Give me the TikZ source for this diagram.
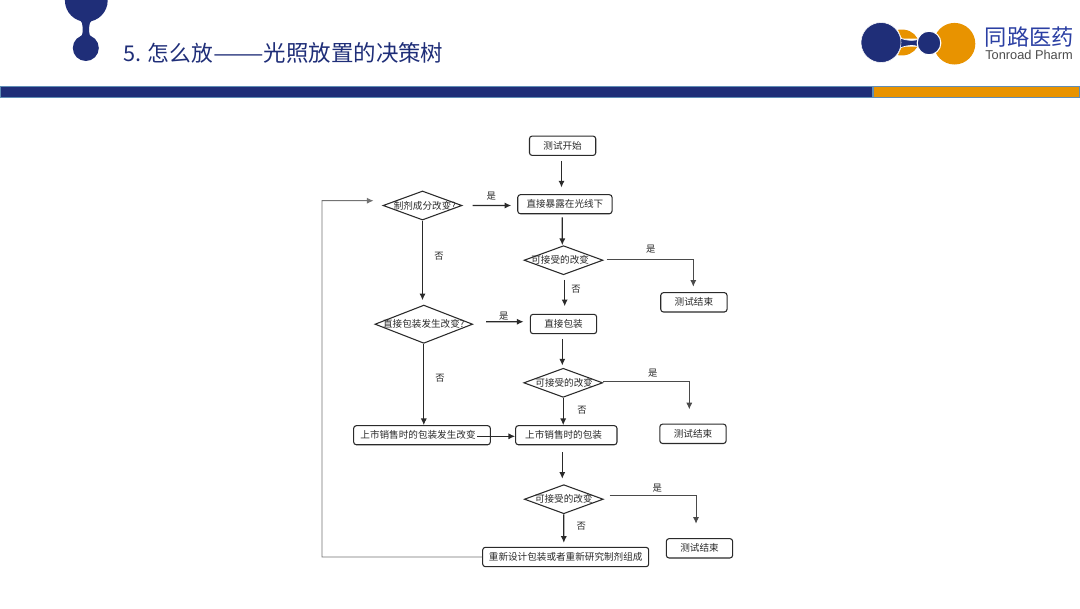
\documentclass[tikz,border=0pt]{standalone}
\usepackage{fontspec}
\usepackage{graphicx}
\setmainfont{Noto Sans CJK SC}
\newfontfamily\latinfont{Liberation Sans}
\usetikzlibrary{shapes.geometric,arrows.meta}
\definecolor{navy}{HTML}{1F2E78}
\definecolor{amber}{HTML}{E89300}
\definecolor{barline}{HTML}{5F8DB5}
\definecolor{logoblue}{HTML}{2B3FA3}
\definecolor{flowink}{HTML}{2A2A2A}
\newcommand\lbl[2][0]{\smash{\makebox[0pt]{\kern#1pt \raisebox{-0.38em}{#2}}}}
\tikzset{
  x=0.75pt,y=-0.75pt,
  flowbox/.style={draw=flowink,line width=0.8pt,rounded corners=2pt,fill=white,inner sep=0pt,text=flowink,font=\fontsize{7.2}{8}\selectfont},
  flowdec/.style={diamond,draw=flowink,line width=0.8pt,fill=white,inner sep=0pt,text=flowink,font=\fontsize{7.2}{8}\selectfont},
  small/.style={minimum width=49.7pt,minimum height=14.5pt},
  dec/.style={minimum width=59.2pt,minimum height=21.8pt},
  arr/.style={draw=flowink,line width=0.85pt,-{Latex[length=5pt,width=4.6pt]}},
  thinarr/.style={draw=flowink!85,line width=0.7pt,-{Latex[length=5pt,width=4.6pt]}},
  backarr/.style={draw=black!55,line width=0.7pt,-{Latex[length=5pt,width=4.6pt]}},
  yn/.style={inner sep=0pt,text=flowink,font=\fontsize{7}{8}\selectfont},
}
\begin{document}
\begin{tikzpicture}
\useasboundingbox (0,0) rectangle (1080,608);
\fill[white] (0,0) rectangle (1080,608);
% top-left ornament
\fill[navy] (86.3,0.4) circle[radius=21.4];
\fill[navy] (85.8,48) circle[radius=13];
\fill[navy] (80,20) .. controls (82,22) and (82.6,24) .. (82.6,27) -- (82.6,32) .. controls (82.6,34) and (82,35.5) .. (80,37.5)
  -- (91.6,37.5) .. controls (89.8,35.5) and (89.2,34) .. (89.2,32) -- (89.2,27) .. controls (89.2,24) and (90,22) .. (92,20) -- cycle;
% title
\node[anchor=west,inner sep=0pt,text=navy,font=\fontsize{16.3}{18}\selectfont] (title) at (123,53) {5. 怎么放\scalebox{1.39}[1]{——}{\fontsize{16.85}{18}\selectfont 光照放置的决策树}};
% bar
\fill[navy,draw=barline,line width=0.7pt] (0.5,86.8) rectangle (872.7,97.8);
\fill[amber,draw=barline,line width=0.7pt] (873.2,86.8) rectangle (1079.5,97.8);
% logo
\fill[amber] (954.5,43.7) circle[radius=20.8];
\fill[amber] (898,29.8) .. controls (907,28.5) and (914,32) .. (917.5,38.5) -- (902,38.5) -- cycle;
\fill[amber] (898,55.2) .. controls (907,56.5) and (914,53) .. (917.5,46.5) -- (902,46.5) -- cycle;
\fill[navy,draw=white,line width=0.5pt] (898,37) .. controls (904,40) and (908,40.3) .. (912,40.3) .. controls (916,40.3) and (919,39.5) .. (922,37)
  -- (922,49) .. controls (919,46.5) and (916,45.5) .. (912,45.5) .. controls (908,45.5) and (904,46) .. (898,49) -- cycle;
\fill[navy,draw=white,line width=0.4pt] (881,42.5) circle[radius=20];
\fill[navy,draw=white,line width=0.8pt] (929,43) circle[radius=11.8];
\node[anchor=west,inner sep=0pt,text=logoblue,font=\fontsize{16.7}{18}\selectfont] (cn) at (984.5,37.5) {同路医药};
\node[anchor=west,inner sep=0pt,text=black!70,font=\latinfont\fontsize{9.6}{11}\selectfont] (en) at (985,55) {Tonroad Pharm};
% flow nodes
\node[flowbox,small] (start) at (562.6,145.75) {\lbl{测试开始}};
\node[flowbox,minimum width=70.7pt,minimum height=14.3pt] (expose) at (564.9,204.2) {\lbl{直接暴露在光线下}};
\node[flowdec,dec] (d1) at (422.5,205.5) {\lbl[3.5]{制剂成分改变?}};
\node[flowdec,dec] (acc1) at (563.5,260.2) {\lbl[-5]{可接受的改变}};
\node[flowbox,small] (end1) at (693.9,302.3) {\lbl{测试结束}};
\node[flowdec,minimum width=73.3pt,minimum height=28.7pt] (d2) at (423.8,324.2) {\lbl{直接包装发生改变?}};
\node[flowbox,small] (pack) at (563.5,324) {\lbl{直接包装}};
\node[flowdec,dec] (acc2) at (563.2,382.8) {\lbl[1.5]{可接受的改变}};
\node[flowbox,small] (end2) at (693,433.8) {\lbl{测试结束}};
\node[flowbox,minimum width=102.5pt,minimum height=14.3pt] (mchange) at (422,435.2) {\lbl[-6]{上市销售时的包装发生改变}};
\node[flowbox,minimum width=76pt,minimum height=14.3pt] (market) at (566.3,435.2) {\lbl[-4]{上市销售时的包装}};
\node[flowdec,dec] (acc3) at (563.8,499.2) {\lbl{可接受的改变}};
\node[flowbox,small] (end3) at (699.5,548.3) {\lbl{测试结束}};
\node[flowbox,minimum width=124.5pt,minimum height=14.5pt] (redesign) at (565.7,557) {\lbl{重新设计包装或者重新研究制剂组成}};
\coordinate (backlow) at (322,557);
\coordinate (backtop) at (322,200.7);
% connectors
\draw[arr] ([shift={(-1.1,5)}]start.south) -- ([shift={(-3.4,-6.7)}]expose.north);
\draw[arr] ([shift={(-2.6,3)}]expose.south) -- ([shift={(-1.2,0)}]acc1.north);
\draw[arr] ([shift={(10.2,0)}]d1.east) -- ([shift={(-6,1.3)}]expose.west);
\draw[arr] (d1.south) -- ([shift={(-1.3,-4.3)}]d2.north);
\draw[thinarr] ([shift={(3,-1)}]acc1.east) -| ([shift={(-0.6,-5.4)}]end1.north);
\draw[arr] ([shift={(1.2,4.5)}]acc1.south) -- ([shift={(1.2,-7.6)}]pack.north);
\draw[arr] ([shift={(13,-2.5)}]d2.east) -- ([shift={(-6.3,-2.3)}]pack.west);
\draw[arr] ([shift={(-1.2,4.6)}]pack.south) -- ([shift={(-0.9,-2.3)}]acc2.north);
\draw[arr] (d2.south) -- ([shift={(1.8,0)}]mchange.north);
\draw[thinarr] ([shift={(0,-1.1)}]acc2.east) -| ([shift={(-3.7,-14.3)}]end2.north);
\draw[arr] (acc2.south) -- ([shift={(-3.1,0)}]market.north);
\draw[arr] ([shift={(-13.6,1.1)}]mchange.east) -- ([shift={(0,1.1)}]market.west);
\draw[arr] ([shift={(-4,7)}]market.south) -- ([shift={(-1.5,-5.4)}]acc3.north);
\draw[thinarr] ([shift={(5.7,-3.9)}]acc3.east) -| ([shift={(-3.5,-14.4)}]end3.north);
\draw[arr] (acc3.south) -- ([shift={(-1.9,-4)}]redesign.north);
\draw[backarr] (redesign.west) -- (backlow) -- (backtop) -- ([shift={(-9,-4.8)}]d1.west);
% yes / no labels
\node[yn] (y1) at (491.3,195.7) {是};
\node[yn] (n1) at (439,256.7) {否};
\node[yn] (y2) at (650.7,248.7) {是};
\node[yn] (n2) at (576,289.3) {否};
\node[yn] (y3) at (503.7,315.7) {是};
\node[yn] (n3) at (440,378.3) {否};
\node[yn] (y4) at (652.7,373.3) {是};
\node[yn] (n4) at (582,410.3) {否};
\node[yn] (y5) at (657.3,488) {是};
\node[yn] (n5) at (581.3,526) {否};
\end{tikzpicture}
\end{document}
